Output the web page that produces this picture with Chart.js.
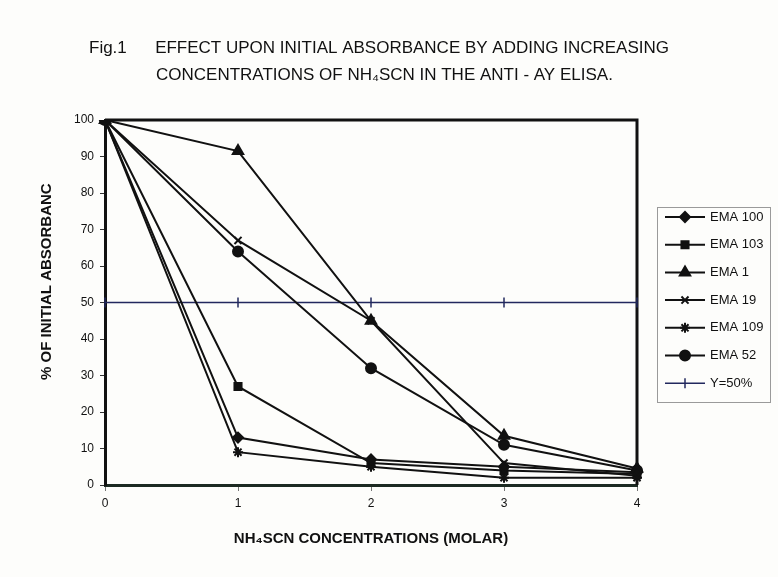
<!DOCTYPE html>
<html lang="en">
<head>
  <meta charset="UTF-8">
  <title>Fig.1 – NH4SCN elution</title>
  <script src="https://cdn.jsdelivr.net/npm/chart.js"></script>
  <style>
    html, body { margin: 0; padding: 0; background: #fdfdfb; }
    #wrap { position: relative; width: 778px; height: 577px; }
  </style>
</head>
<body>
  <div id="wrap"><canvas id="chart" width="778" height="577"></canvas></div>
  <script>
    // values
    const concentrations = ['0', '1', '2', '3', '4'];
    const ema100 = [100, 13, 7, 5, 3.5];
    const ema103 = [100, 27, 6, 4, 3];
    const ema1 = [100, 91.5, 45, 13.5, 4.5];
    const ema19 = [100, 67, 45, 6, 2.5];
    const ema109 = [100, 9, 5, 2, 2];
    const ema52 = [100, 64, 32, 11, 4];
    const halfLine = [50, 50, 50, 50, 50];
    const yTicks = [0, 10, 20, 30, 40, 50, 60, 70, 80, 90, 100];

    const titleLines = [
      'Fig.1      EFFECT UPON INITIAL ABSORBANCE BY ADDING INCREASING',
      'CONCENTRATIONS OF NH\u2084SCN IN THE ANTI - AY ELISA.'
    ];
    const legendNames = ['EMA 100', 'EMA 103', 'EMA 1', 'EMA 19', 'EMA 109', 'EMA 52', 'Y=50%'];

    const sans = "'Liberation Sans', Arial, sans-serif";

    function series(label, data, style, radius, extra) {
      return Object.assign({
        label: label,
        data: data,
        borderColor: '#111',
        backgroundColor: '#111',
        borderWidth: 2,
        pointStyle: style,
        pointRadius: radius,
        pointBorderWidth: 2,
        pointBorderColor: '#111',
        pointBackgroundColor: '#111',
        tension: 0
      }, extra || {});
    }

    const datasets = [
      series(legendNames[0], ema100, 'rectRot', 5),
      series(legendNames[1], ema103, 'rect', 5),
      series(legendNames[2], ema1, 'triangle', 6),
      series(legendNames[3], ema19, 'crossRot', 5),
      series(legendNames[4], ema109, 'star', 5),
      series(legendNames[5], ema52, 'circle', 5),
      series(legendNames[6], halfLine, 'line', 5, {
        borderColor: '#22285e', pointBorderColor: '#22285e', borderWidth: 1.5,
        pointBorderWidth: 1.5, pointRotation: 90
      })
    ];

    // heading text, drawn where the original sits
    const headingPlugin = {
      id: 'heading',
      afterDraw(chart) {
        const ctx = chart.ctx;
        ctx.save();
        ctx.fillStyle = '#111';
        ctx.textBaseline = 'middle';
        ctx.textAlign = 'left';
        ctx.font = '17px ' + sans;
        ctx.fillText(titleLines[0], 89, 48);
        ctx.fillText(titleLines[1], 156, 75);
        ctx.restore();
      }
    };

    // box round the plot area (top + right)
    const framePlugin = {
      id: 'frame',
      beforeDatasetsDraw(chart) {
        const a = chart.chartArea, ctx = chart.ctx;
        ctx.save();
        ctx.strokeStyle = '#111';
        ctx.lineWidth = 3;
        ctx.beginPath();
        ctx.moveTo(a.left, a.top);
        ctx.lineTo(a.right, a.top);
        ctx.lineTo(a.right, a.bottom);
        ctx.stroke();
        ctx.restore();
      }
    };

    // excel style legend: line with marker
    const legendPlugin = {
      id: 'excelLegend',
      afterDraw(chart) {
        const ctx = chart.ctx;
        const x0 = 657, y0 = 207, w = 113, h = 195;
        ctx.save();
        ctx.strokeStyle = '#9a9a9a';
        ctx.lineWidth = 1;
        ctx.strokeRect(x0 + 0.5, y0 + 0.5, w, h);
        ctx.font = '13px ' + sans;
        ctx.textBaseline = 'middle';
        chart.data.datasets.forEach((ds, i) => {
          const y = 217 + i * 27.7;
          ctx.strokeStyle = ds.borderColor;
          ctx.lineWidth = ds.borderWidth;
          ctx.beginPath();
          ctx.moveTo(665, y);
          ctx.lineTo(705, y);
          ctx.stroke();
          if (Chart.helpers && Chart.helpers.drawPoint) {
            ctx.fillStyle = ds.pointBackgroundColor;
            ctx.strokeStyle = ds.pointBorderColor;
            ctx.lineWidth = ds.pointBorderWidth;
            Chart.helpers.drawPoint(ctx, {
              pointStyle: ds.pointStyle,
              radius: ds.pointRadius,
              rotation: ds.pointRotation || 0,
              borderWidth: ds.pointBorderWidth
            }, 685, y);
          }
          ctx.fillStyle = '#111';
          ctx.fillText(ds.label, 710, y);
        });
        ctx.restore();
      }
    };

    new Chart(document.getElementById('chart').getContext('2d'), {
      type: 'line',
      data: { labels: concentrations, datasets: datasets },
      plugins: [framePlugin, headingPlugin, legendPlugin],
      options: {
        responsive: false,
        animation: false,
        layout: { padding: { top: 120, right: 141, bottom: 0, left: 0 } },
        plugins: { legend: { display: false }, tooltip: { enabled: false } },
        scales: {
          x: {
            offset: false,
            afterFit(scale) { scale.height = 92; },
            grid: { drawOnChartArea: false, tickLength: 6, color: '#777' },
            border: { color: '#1c2a22', width: 3 },
            ticks: { color: '#111', padding: 5, font: { family: sans, size: 12 } },
            title: {
              display: true,
              text: 'NH\u2084SCN CONCENTRATIONS (MOLAR)',
              color: '#111',
              font: { family: sans, size: 15, weight: 'bold' },
              padding: { top: 0, bottom: 29 }
            }
          },
          y: {
            min: 0,
            max: 100,
            afterFit(scale) { scale.width = 105; },
            afterBuildTicks(scale) { scale.ticks = yTicks.map(v => ({ value: v })); },
            grid: { drawOnChartArea: false, tickLength: 5, color: '#333' },
            border: { color: '#111', width: 3 },
            ticks: { color: '#111', padding: 6, font: { family: sans, size: 12 } },
            title: {
              display: true,
              text: '          % OF INITIAL ABSORBANC',
              color: '#111',
              font: { family: sans, size: 15, weight: 'bold' },
              padding: { top: 38, bottom: 0 }
            }
          }
        }
      }
    });
  </script>
</body>
</html>
